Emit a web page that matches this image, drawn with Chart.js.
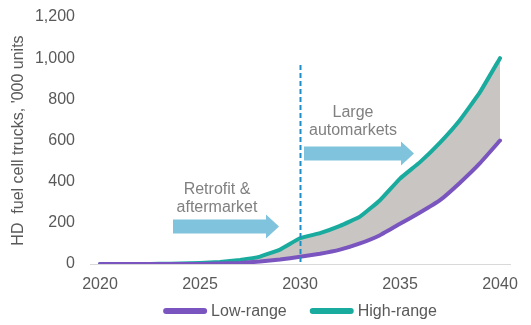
<!DOCTYPE html>
<html>
<head>
<meta charset="utf-8">
<script src="https://cdn.jsdelivr.net/npm/chart.js@4.4.0/dist/chart.umd.min.js"></script>
<style>
  html, body { margin: 0; padding: 0; background: #fff; }
  #wrap { width: 531px; height: 325px; }
</style>
</head>
<body>
<div id="wrap"><canvas id="trucks"></canvas></div>
<script>
// Heavy-duty fuel cell truck fleet, '000 units
var years = ['2020','2021','2022','2023','2024','2025','2026','2027','2028','2029','2030',
             '2031','2032','2033','2034','2035','2036','2037','2038','2039','2040'];
var lowRange  = [0, 0, 0, 0, 0, 0, 2, 5, 12, 22, 35, 50, 70, 100, 140, 195, 250, 310, 395, 490, 600];
var highRange = [0, 0, 0, 1, 2, 5, 10, 20, 36, 70, 125, 150, 185, 230, 310, 415, 495, 590, 700, 835, 1000];
var yTicks = [0, 200, 400, 600, 800, 1000, 1200];

// callouts: [fromYear, toYear, value]
var arrows = [[2023.65, 2028.95, 182], [2030.2, 2035.7, 537]];
var notes = [
    {x: 2025.85, y: 190, lines: ['Retrofit &', 'aftermarket']},
    {x: 2032.65, y: 113, lines: ['Large', 'automarkets']}
];
var phaseYear = 2030;

var FONT = 'Arial, "Liberation Sans", sans-serif';

var calloutPlugin = {
    id: 'callouts',
    afterDatasetsDraw: function(chart) {
        var ctx = chart.ctx;
        var xs = chart.scales.x, ys = chart.scales.y;
        function px(yr) { return xs.getPixelForValue(yr - 2020); }

        ctx.save();
        // arrows
        ctx.fillStyle = '#7fc3dc';
        arrows.forEach(function(a) {
            var x0 = px(a[0]), x1 = px(a[1]), yc = ys.getPixelForValue(a[2]);
            var shaft = 7, head = 12, headLen = 13;
            ctx.beginPath();
            ctx.moveTo(x0, yc - shaft);
            ctx.lineTo(x1 - headLen, yc - shaft);
            ctx.lineTo(x1 - headLen, yc - head);
            ctx.lineTo(x1, yc);
            ctx.lineTo(x1 - headLen, yc + head);
            ctx.lineTo(x1 - headLen, yc + shaft);
            ctx.lineTo(x0, yc + shaft);
            ctx.closePath();
            ctx.fill();
        });

        // text labels (y given in pixels)
        ctx.fillStyle = '#808080';
        ctx.font = '16px ' + FONT;
        ctx.textAlign = 'center';
        ctx.textBaseline = 'middle';
        notes.forEach(function(n) {
            n.lines.forEach(function(t, i) {
                ctx.fillText(t, px(n.x), n.y + i * 18);
            });
        });

        // dashed divider
        var dx = Math.round(px(phaseYear)) + 0.5;
        ctx.strokeStyle = '#1b8fc3';
        ctx.lineWidth = 2;
        ctx.setLineDash([5, 3]);
        ctx.beginPath();
        ctx.moveTo(dx, 65);
        ctx.lineTo(dx, ys.getPixelForValue(0));
        ctx.stroke();
        ctx.restore();
    }
};

// legend centred under the plot area, thick line swatches
var legendPlugin = {
    id: 'lineLegend',
    afterDraw: function(chart) {
        var ctx = chart.ctx, area = chart.chartArea;
        var sw = 38, cap = 3, gap = 4, space = 23, y = 311;
        ctx.save();
        ctx.font = '16px ' + FONT;
        ctx.textBaseline = 'middle';
        var items = chart.data.datasets.map(function(ds) {
            return {ds: ds, w: cap * 2 + sw + gap + ctx.measureText(ds.label).width};
        });
        var total = items.reduce(function(s, it) { return s + it.w; }, 0) + space * (items.length - 1);
        var x = (area.left + area.right) / 2 - total / 2;
        items.forEach(function(it) {
            ctx.strokeStyle = it.ds.borderColor;
            ctx.lineWidth = 6;
            ctx.lineCap = 'round';
            ctx.beginPath();
            ctx.moveTo(x + cap, y);
            ctx.lineTo(x + cap + sw, y);
            ctx.stroke();
            ctx.fillStyle = '#595959';
            ctx.fillText(it.ds.label, x + cap * 2 + sw + gap, y + 1);
            x += it.w + space;
        });
        ctx.restore();
    }
};

var ctx = document.getElementById('trucks').getContext('2d');
var chart = new Chart(ctx, {
    type: 'line',
    data: {
        labels: years,
        datasets: [{
            label: 'Low-range',
            data: lowRange,
            borderColor: '#7a55c0',
            backgroundColor: '#7a55c0',
            borderWidth: 4,
            borderCapStyle: 'round',
            pointRadius: 0,
            tension: 0.1,
            fill: false
        }, {
            label: 'High-range',
            data: highRange,
            borderColor: '#1aab9f',
            backgroundColor: '#c8c5c2',
            borderWidth: 4,
            borderCapStyle: 'round',
            pointRadius: 0,
            tension: 0.1,
            fill: {target: '-1', above: '#c8c5c2', below: '#c8c5c2'}
        }]
    },
    options: {
        responsive: true,
        maintainAspectRatio: false,
        animation: false,
        layout: { padding: { left: 0, right: 21, top: 17, bottom: 31 } },
        plugins: {
            tooltip: { enabled: false },
            legend: { display: false }
        },
        scales: {
            x: {
                offset: true,
                afterFit: function(scale) {
                    scale.height = 30;
                    scale.paddingLeft = 0;
                    scale.paddingRight = 0;
                },
                grid: { display: false, drawTicks: false },
                border: { display: true, color: '#d9d9d9', width: 1 },
                ticks: {
                    autoSkip: false,
                    maxRotation: 0,
                    padding: 11,
                    color: '#595959',
                    font: { family: FONT, size: 16 },
                    callback: function(v, i) { return i % 5 === 0 ? years[i] : ''; }
                }
            },
            y: {
                min: 0,
                max: 1200,
                afterBuildTicks: function(scale) {
                    scale.ticks = yTicks.map(function(v) { return {value: v}; });
                },
                afterFit: function(scale) {
                    scale.width = 90;
                    scale.paddingTop = 0;
                    scale.paddingBottom = 0;
                },
                grid: { display: false, drawTicks: false },
                border: { display: false },
                ticks: {
                    padding: 15,
                    color: '#595959',
                    font: { family: FONT, size: 16 },
                    callback: function(v) { return v.toLocaleString('en-US'); }
                },
                title: {
                    display: true,
                    text: "HD  fuel cell trucks, '000 units",
                    color: '#595959',
                    font: { family: FONT, size: 16 },
                    padding: { top: 9, bottom: 0 }
                }
            }
        }
    },
    plugins: [calloutPlugin, legendPlugin]
});
</script>
</body>
</html>
